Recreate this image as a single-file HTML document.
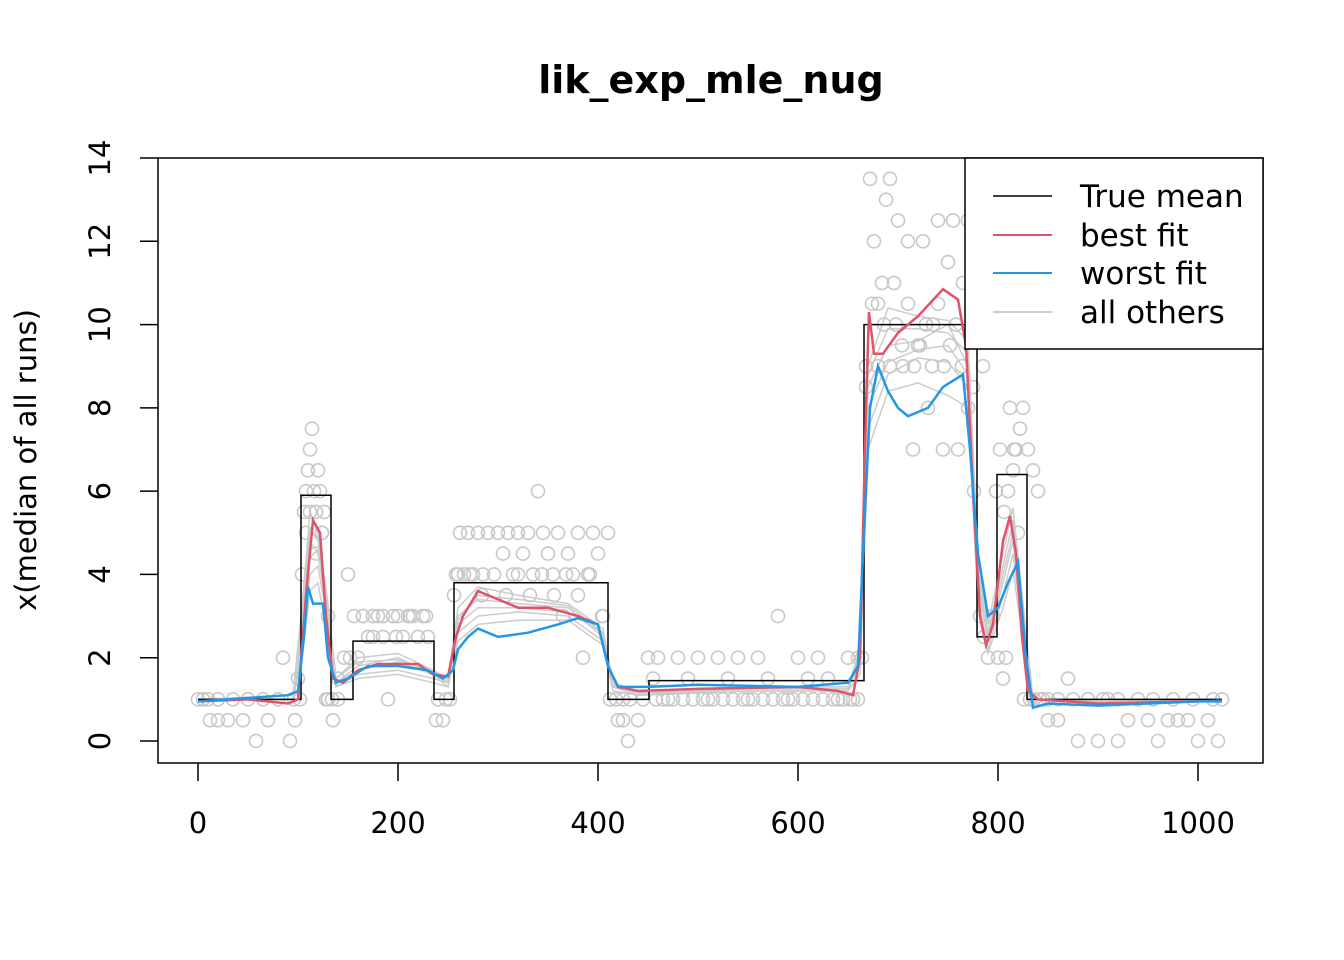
<!DOCTYPE html>
<html><head><meta charset="utf-8">
<style>
body{margin:0;background:#fff;}
svg{display:block;font-family:"DejaVu Sans","Liberation Sans",sans-serif;}
</style></head>
<body>
<svg id="chart" width="1344" height="960" viewBox="0 0 1344 960" xmlns="http://www.w3.org/2000/svg">
<rect width="1344" height="960" fill="#fff"/>
<text x="711" y="93" text-anchor="middle" font-size="38" font-weight="bold">lik_exp_mle_nug</text>
<text transform="translate(36,460) rotate(-90)" text-anchor="middle" font-size="29">x(median of all runs)</text>
<g id="others"></g>
<g id="points"></g>
<g id="marks"></g>
<g id="axes"></g>
<rect x="158" y="158" width="1105" height="605" fill="none" stroke="#000" stroke-width="1.5"/>
<g>
<rect x="965" y="158" width="298" height="191" fill="#fff" stroke="#000" stroke-width="1.5"/>
<line x1="993" y1="196" x2="1052" y2="196" stroke="#000" stroke-width="1.5"/>
<text x="1080" y="207" font-size="31">True mean</text>
<line x1="993" y1="235" x2="1052" y2="235" stroke="#DF536B" stroke-width="2"/>
<text x="1080" y="246" font-size="31">best fit</text>
<line x1="993" y1="273" x2="1052" y2="273" stroke="#2297E6" stroke-width="2"/>
<text x="1080" y="284" font-size="31">worst fit</text>
<line x1="993" y1="312" x2="1052" y2="312" stroke="#cccccc" stroke-width="2"/>
<text x="1080" y="323" font-size="31">all others</text>
</g>
</svg>
<script>
const xTicks=[0,200,400,600,800,1000];
const yTicks=[0,2,4,6,8,10,12,14];
const trueX=[0,103,103,133,133,155,155,236,236,256,256,410,410,451,451,666,666,779,779,799,799,829,829,1024];
const trueY=[1,1,5.9,5.9,1,1,2.4,2.4,1,1,3.8,3.8,1,1,1.45,1.45,10,10,2.5,2.5,6.4,6.4,1,1];
const bestX=[0,50,90,100,108,115,122,128,135,145,160,180,200,220,235,250,258,265,280,300,320,350,380,400,410,420,440,500,600,640,655,662,668,671,676,685,700,720,745,760,768,775,782,788,795,805,812,818,824,830,840,900,1000,1024];
const bestY=[0.95,1.0,0.9,1.0,3.5,5.3,5.0,3.0,1.5,1.4,1.7,1.85,1.85,1.85,1.6,1.55,2.5,3.0,3.6,3.4,3.2,3.2,3.0,2.8,1.8,1.3,1.2,1.25,1.3,1.2,1.1,2.0,8,10.3,9.3,9.3,9.8,10.2,10.85,10.6,9.5,6,3,2.3,2.8,4.8,5.4,4.5,2.5,1.2,1.0,0.9,0.95,0.97];
const worstX=[0,60,90,100,106,110,115,125,130,138,150,170,200,230,245,255,260,270,280,300,330,360,380,400,410,420,450,500,600,650,660,666,672,680,690,700,710,730,745,765,772,780,790,800,810,820,828,835,850,900,1000,1024];
const worstY=[0.95,1.05,1.1,1.2,2.5,3.7,3.3,3.3,2.0,1.4,1.5,1.8,1.8,1.7,1.5,1.7,2.2,2.5,2.7,2.5,2.6,2.8,2.95,2.8,1.8,1.3,1.3,1.35,1.3,1.4,1.8,5,8.0,9.0,8.4,8.0,7.8,8.0,8.5,8.8,7,4.5,3.0,3.2,3.8,4.3,2.0,0.8,0.9,0.85,0.95,0.95];
const otherX=[0,95,105,112,120,130,138,160,200,235,250,260,280,320,370,405,415,440,550,650,662,670,690,720,750,770,780,790,805,815,825,835,900,1024];
const otherY1=[1,1,3,4.8,4.5,3,1.4,1.8,2.0,1.6,1.3,3,3.4,3.3,3.2,2.5,1.3,1.1,1.2,1.2,2,8.5,9.5,9.6,10,9,4,2.5,4,5,3,1,0.95,1];
const otherY2=[1,1,2.5,4,4.2,2.8,1.3,1.6,1.7,1.5,1.4,2.6,3.0,3.1,3.0,2.4,1.3,1.2,1.3,1.3,1.8,7.5,8.8,9.2,9.1,8.5,3.5,2.2,3.5,4.5,2.6,1,0.95,1];
const otherY3=[1,1.1,3.5,5.5,5,3.3,1.5,2,2.1,1.7,1.5,3.2,3.7,3.5,3.3,2.7,1.4,1.2,1.3,1.3,2.2,9,10.4,10.2,10.1,9.6,4.5,2.8,4.5,5.6,3.3,1,0.95,1];
const otherY4=[1,1,2.2,3.6,3.8,2.5,1.3,1.5,1.6,1.4,1.3,2.4,2.8,2.9,2.9,2.3,1.2,1.1,1.2,1.2,1.6,7,8.4,8.6,8.3,8,3.2,2.1,3.2,4.1,2.4,1,0.95,1];
const otherY5=[1,1,2.8,4.4,4.6,3.1,1.4,1.7,1.9,1.6,1.4,2.8,3.2,3.2,3.1,2.6,1.3,1.1,1.25,1.25,1.9,8,9.1,9.4,9.5,8.8,3.8,2.4,3.8,4.8,2.8,1,0.95,1];
const otherY6=[1,1,3.2,5.1,4.8,3.1,1.5,1.9,1.95,1.65,1.45,2.9,3.5,3.4,3.25,2.6,1.35,1.15,1.25,1.25,2.1,8.8,9.9,9.9,9.8,9.3,4.2,2.6,4.2,5.3,3.1,1,0.95,1];
const ptX=[5,12,20,30,45,58,70,85,92,97,102,106,108,110,112,114,116,118,120,122,124,126,128,130,135,140,150,156,160,165,170,175,180,185,190,195,200,205,210,215,220,225,230,238,245,252,258,262,266,270,275,280,285,290,300,305,310,315,320,325,330,335,340,345,350,355,360,365,370,375,380,385,390,395,400,405,410,420,425,430,440,450,455,460,470,480,490,500,510,520,530,540,550,560,570,580,590,600,610,620,630,640,650,655,660,664,668,672,676,680,684,688,692,696,700,705,710,715,720,725,730,735,740,745,750,755,760,765,770,775,780,785,790,795,800,805,808,812,815,818,822,825,830,835,840,845,850,860,870,880,900,910,920,930,950,960,970,980,990,1000,1010,1020];
const ptY=[1,0.5,0.5,0.5,0.5,0,0.5,2,0,0.5,1,5.5,6,6.5,7,7.5,6,5.5,6.5,6,5,5.5,1,1,0.5,1,4,3,2,3,2.5,3,3,2.5,1,3,3,2.5,3,3,2.5,3,2.5,0.5,0.5,1,4,5,4,5,4,5,4,5,5,4.5,5,4,5,4.5,5,4,6,5,4.5,4,5,3,4.5,4,5,2,4,5,4.5,3,5,0.5,0.5,0,0.5,2,1.5,2,1,2,1.5,2,1,2,1.5,2,1,2,1.5,3,1,2,1.5,2,1.5,1,2,1,2,2,8.5,13.5,12,10.5,11,13,13.5,11,12.5,9,12,7,9.5,12,8,10,12.5,7,11.5,12.5,7,11,12.5,8.5,10,9,2,3,2,1.5,2,8,6.5,7,7.5,8,7,6.5,6,1,0.5,0.5,1.5,0,0,1,0,0.5,0.5,0,0.5,0.5,0.5,0,0.5,0,0,1,0.5,1];
const pt2X=[0,10,20,35,50,65,80,96,100,104,108,112,118,124,130,134,140,146,152,165,175,185,198,212,228,240,248,256,260,272,284,296,308,320,332,344,356,368,380,392,404,412,418,425,432,445,458,465,475,485,495,505,515,525,535,545,555,565,575,585,595,605,615,625,635,645,652,660,668,674,680,686,692,698,704,710,716,722,728,734,740,746,752,758,764,770,776,782,786,794,798,802,806,810,816,820,826,832,836,842,850,860,875,890,905,920,940,955,975,995,1015,1024];
const pt2Y=[1,1,1,1,1,1,1,1,1.5,4,5,5.5,4.5,5,3,1,1.5,2,2,3,2.5,3,2.5,3,3,1,1,3.5,4,4,3.5,4,3.5,4,3.5,4,3.5,4,3.5,4,3,1,1,1,1,1,1,1,1,1,1,1,1,1,1,1,1,1,1,1,1,1,1,1,1,1,1,1,9,10.5,9,10,9,10,9.5,10.5,9,9.5,10,9,10.5,9,9.5,10,9,8,6,3,2.5,3,6,7,5.5,6,7,5,1,1,1,1,1,1,1,1,1,1,1,1,1,1,1,1,1,1];
const NS="http://www.w3.org/2000/svg";
const sx=v=>198+v*1.0;
const sy=v=>741-v*(583/14);
function mk(tag,attrs,parent){const e=document.createElementNS(NS,tag);for(const k in attrs)e.setAttribute(k,attrs[k]);document.getElementById(parent).appendChild(e);return e;}
function pathOf(xs,ys){return xs.map((x,i)=>(i?'L':'M')+sx(x).toFixed(1)+','+sy(ys[i]).toFixed(1)).join(' ');}
[otherY1,otherY2,otherY3,otherY4,otherY5,otherY6].forEach((ys,i)=>{
 const p=mk('path',{d:pathOf(otherX,ys),fill:'none',stroke:'#cccccc','stroke-width':1.5},'others');
 
 
});
ptX.forEach((x,i)=>{
 const c=mk('circle',{cx:sx(x),cy:sy(ptY[i]),r:6.5,fill:'none',stroke:'#c8c8c8','stroke-width':1.6},'points');
 
 
});
pt2X.forEach((x,i)=>{
 const c=mk('circle',{cx:sx(x),cy:sy(pt2Y[i]),r:6.5,fill:'none',stroke:'#c8c8c8','stroke-width':1.6},'points');
 
 
});
const t=mk('path',{d:pathOf(trueX,trueY),fill:'none',stroke:'#000','stroke-width':1.5},'marks');


const b=mk('path',{d:pathOf(bestX,bestY),fill:'none',stroke:'#DF536B','stroke-width':2.5},'marks');


const w=mk('path',{d:pathOf(worstX,worstY),fill:'none',stroke:'#2297E6','stroke-width':2.5},'marks');


mk('line',{x1:sx(0),x2:sx(1000),y1:763,y2:763,stroke:'#000'},'axes');
xTicks.forEach(v=>{
 mk('line',{x1:sx(v),x2:sx(v),y1:763,y2:781,stroke:'#000','stroke-width':1.5},'axes');
 const tx=mk('text',{x:sx(v),y:833,'text-anchor':'middle','font-size':29},'axes');
 tx.textContent=v;
 
 
});
yTicks.forEach(v=>{
 mk('line',{x1:140,x2:158,y1:sy(v),y2:sy(v),stroke:'#000','stroke-width':1.5},'axes');
 const tx=mk('text',{transform:`translate(110,${sy(v)}) rotate(-90)`,'text-anchor':'middle','font-size':29},'axes');
 tx.textContent=v;
 
 
});
</script>
</body></html>
